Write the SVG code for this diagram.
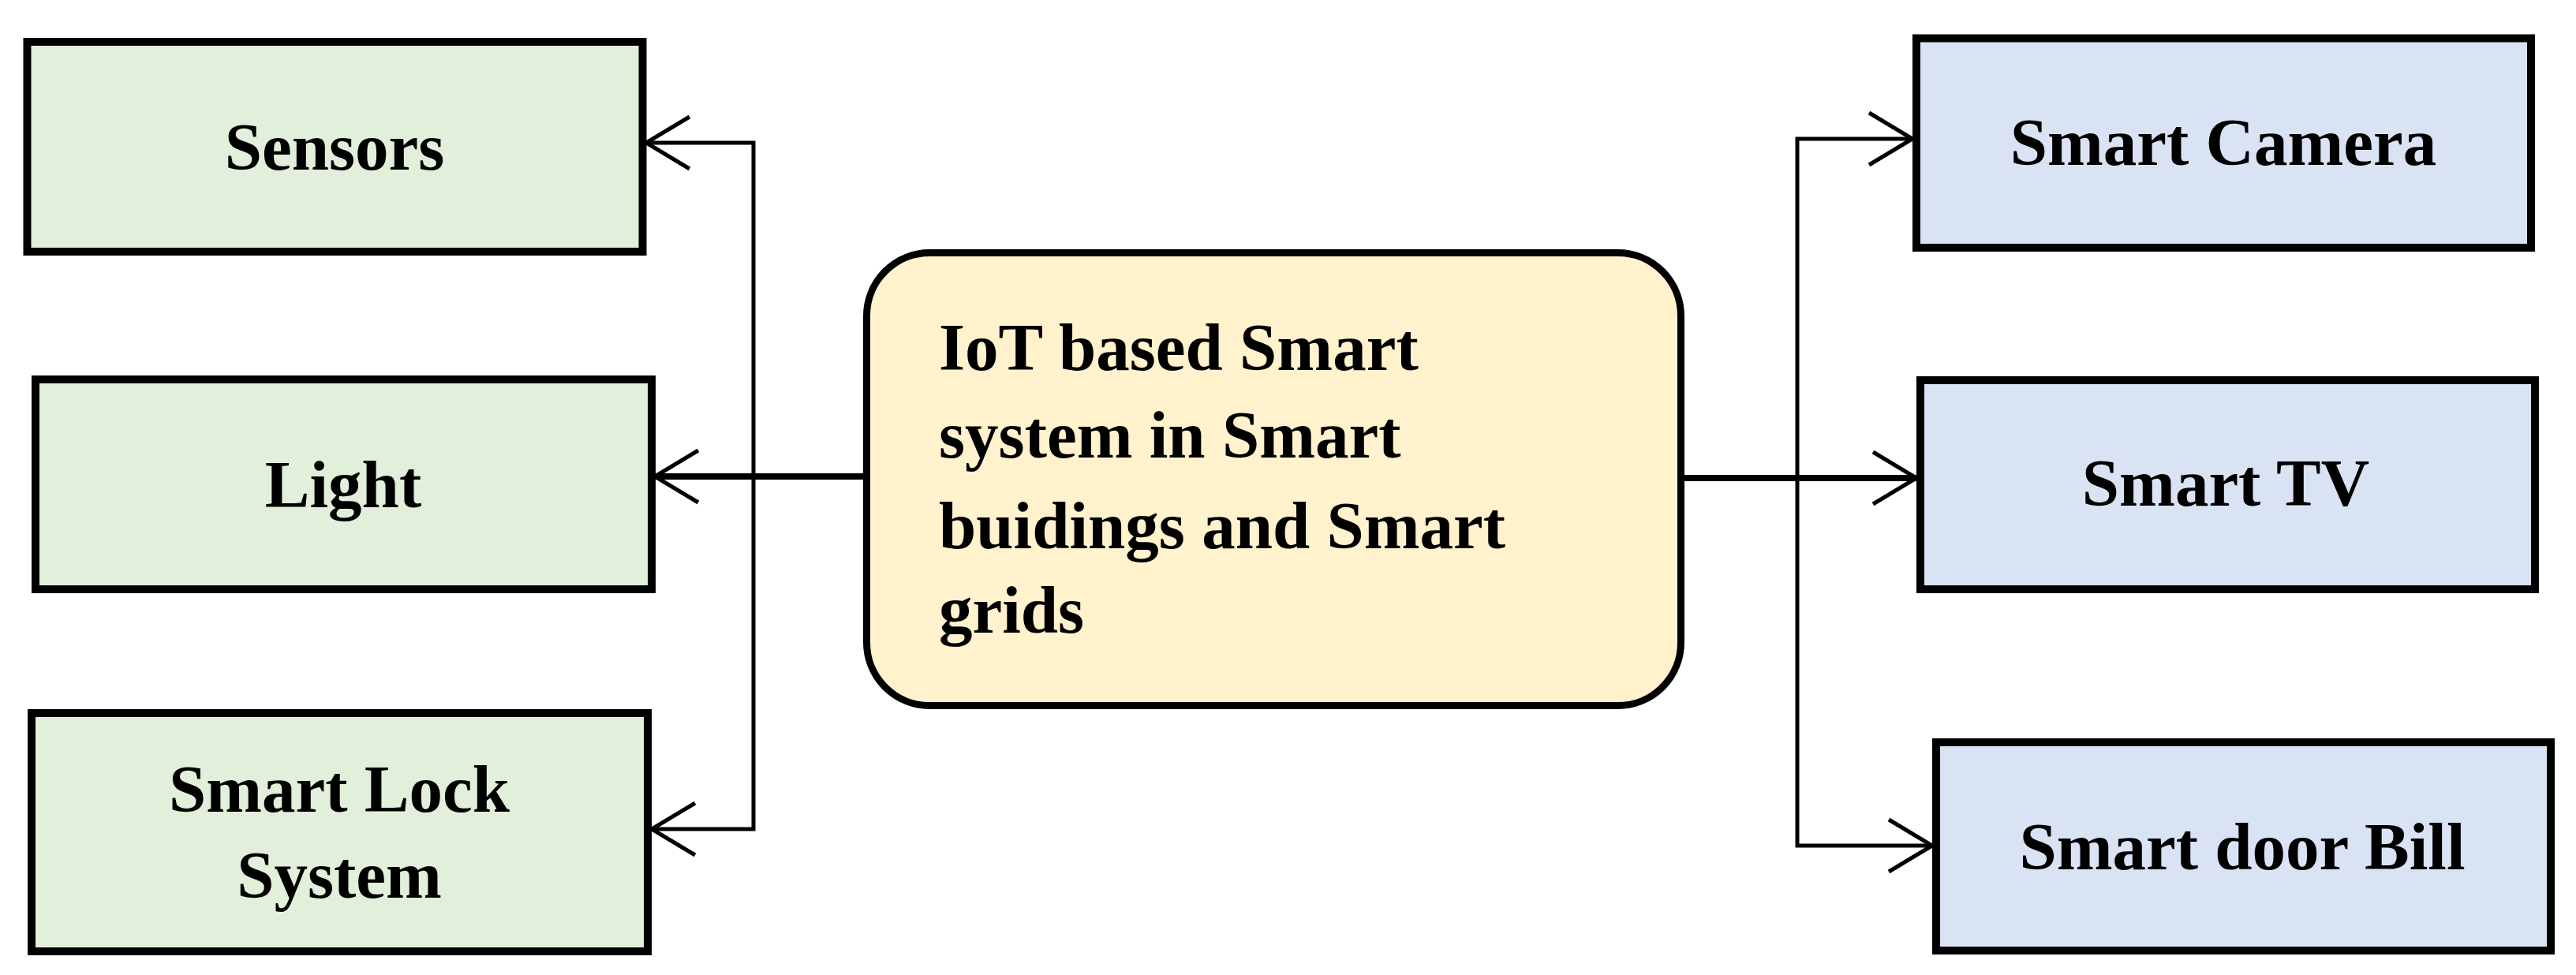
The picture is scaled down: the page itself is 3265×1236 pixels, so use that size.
<svg xmlns="http://www.w3.org/2000/svg" width="3265" height="1236" viewBox="0 0 3265 1236">
<style>
.box{stroke:#000;stroke-width:10}
.g{fill:#E2EFDA}
.b{fill:#DAE3F3}
.c{fill:#FFF2CC;stroke:#000;stroke-width:9}
.t{font-family:"Liberation Serif","Times New Roman",serif;font-weight:bold;font-size:85px;fill:#000}
.m{text-anchor:middle}
.ln{fill:none;stroke:#000;stroke-width:5}
.thick{stroke-width:8}
</style>
<defs>
<marker id="arr" markerUnits="userSpaceOnUse" markerWidth="80" markerHeight="90" viewBox="-70 -45 80 90" refX="0" refY="0" orient="auto" overflow="visible">
<path d="M-55,-33 L0,0 L-55,33" fill="none" stroke="#000" stroke-width="5"/>
</marker>
</defs>
<rect width="3265" height="1236" fill="#fff"/>
<g id="connectors">
<path class="ln thick" d="M1094,604 H830" marker-end="url(#arr)"/>
<path class="ln" d="M955,604 V181 H819" marker-end="url(#arr)"/>
<path class="ln" d="M955,604 V1051 H826" marker-end="url(#arr)"/>
<path class="ln thick" d="M2135,606 H2429" marker-end="url(#arr)"/>
<path class="ln" d="M2278,606 V176 H2424" marker-end="url(#arr)"/>
<path class="ln" d="M2278,606 V1072 H2449" marker-end="url(#arr)"/>
</g>
<g id="center">
<rect class="c" x="1098.5" y="320.5" width="1032" height="574" rx="80" ry="80"/>
<text class="t" x="1190" y="469">IoT based Smart</text>
<text class="t" x="1190" y="580">system in Smart</text>
<text class="t" x="1190" y="695">buidings and Smart</text>
<text class="t" x="1190" y="802">grids</text>
</g>
<g id="sensors">
<rect class="box g" x="34.5" y="53" width="780" height="266"/>
<text class="t m" x="424" y="215">Sensors</text>
</g>
<g id="light">
<rect class="box g" x="45" y="481" width="781" height="266"/>
<text class="t m" x="435" y="643">Light</text>
</g>
<g id="smart-lock">
<rect class="box g" x="40" y="904" width="781" height="302"/>
<text class="t m" x="430" y="1029">Smart Lock</text>
<text class="t m" x="430" y="1138">System</text>
</g>
<g id="smart-camera">
<rect class="box b" x="2429" y="48.5" width="779" height="265.5"/>
<text class="t m" x="2818" y="209">Smart Camera</text>
</g>
<g id="smart-tv">
<rect class="box b" x="2434" y="482" width="779" height="265"/>
<text class="t m" x="2821" y="641">Smart TV</text>
</g>
<g id="smart-door-bill">
<rect class="box b" x="2454" y="941" width="779" height="264"/>
<text class="t m" x="2842" y="1102">Smart door Bill</text>
</g>
</svg>
